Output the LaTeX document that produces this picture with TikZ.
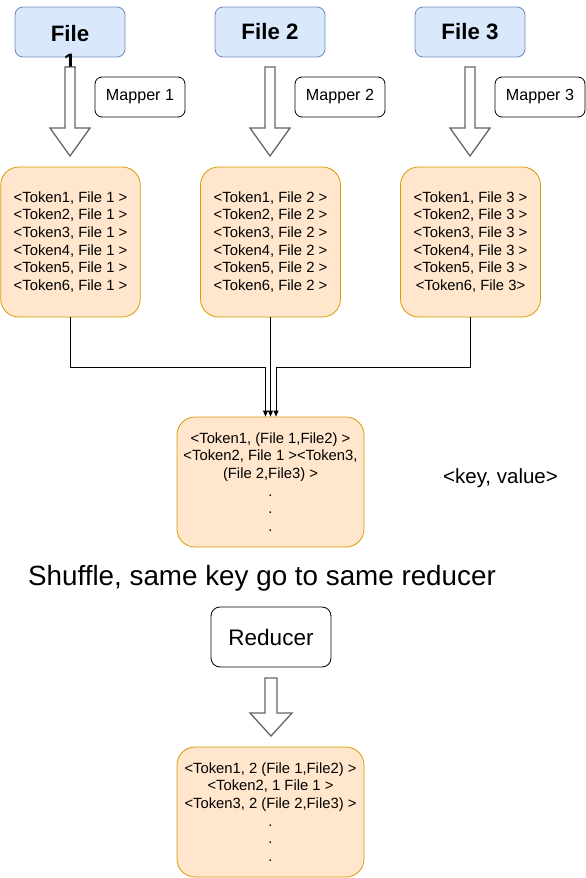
\documentclass[tikz,border=0pt]{standalone}
\usepackage{fontspec}
\setmainfont{Liberation Sans}
\usetikzlibrary{arrows.meta}
\definecolor{fileFill}{HTML}{DAE8FC}
\definecolor{fileDraw}{HTML}{6C8EBF}
\definecolor{tokFill}{HTML}{FFE6CC}
\definecolor{tokDraw}{HTML}{D79B00}
\definecolor{arrGray}{HTML}{666666}
\newcommand{\blockarr}[6]{%
  \draw[barrow] (#1-#5,#2) -- (#1+#5,#2) -- (#1+#5,#3) -- (#1+#6,#3) -- (#1,#4) -- (#1-#6,#3) -- (#1-#5,#3) -- cycle;}
\begin{document}
\begin{tikzpicture}[x=1pt,y=-1pt,
  filebox/.style={draw=fileDraw,fill=fileFill,rounded corners=8pt,minimum width=110pt,minimum height=50pt,inner sep=0pt,line width=0.8pt,font=\fontsize{22.3}{28}\selectfont\bfseries},
  mapbox/.style={draw=black,fill=white,rounded corners=7pt,minimum width=90pt,minimum height=40pt,inner sep=0pt,line width=0.8pt,font=\fontsize{16.1}{19}\selectfont},
  tokbox/.style={draw=tokDraw,fill=tokFill,rounded corners=18pt,inner sep=0pt,line width=0.8pt,align=center,font=\fontsize{14.8}{17.7}\selectfont},
  barrow/.style={draw=arrGray,fill=white,line width=1.3pt,line join=miter},
  conn/.style={draw=black,line width=0.8pt,-{Triangle[length=6pt,width=5pt]}},
]
\useasboundingbox (0,0) rectangle (586,878);

% File boxes
\node[filebox] (f1) at (70,32) {};
\node[font=\fontsize{22.3}{28}\selectfont\bfseries,align=center,inner sep=0pt] (f1t) at (70,47) {File\\1};
\node[filebox] (f2) at (270,32) {File 2};
\node[filebox] (f3) at (470,32) {File 3};

% Block arrows (mappers)
\blockarr{70}{67}{128}{156}{5}{20}
\blockarr{270}{67}{128}{156}{5}{20}
\blockarr{470}{67}{128}{156}{5}{20}

% Mapper labels
\node[mapbox] (m1) at (140,97) {Mapper 1};
\node[mapbox] (m2) at (340,97) {Mapper 2};
\node[mapbox] (m3) at (540,97) {Mapper 3};

% Token boxes
\node[tokbox,minimum width=139.5pt,minimum height=150pt] (t1) at (70.5,242) {<Token1, File 1 >\\<Token2, File 1 >\\<Token3, File 1 >\\<Token4, File 1 >\\<Token5, File 1 >\\<Token6, File 1 >};
\node[tokbox,minimum width=140pt,minimum height=150pt] (t2) at (270.5,242) {<Token1, File 2 >\\<Token2, File 2 >\\<Token3, File 2 >\\<Token4, File 2 >\\<Token5, File 2 >\\<Token6, File 2 >};
\node[tokbox,minimum width=140pt,minimum height=150pt] (t3) at (470.5,242) {<Token1, File 3 >\\<Token2, File 3 >\\<Token3, File 3 >\\<Token4, File 3 >\\<Token5, File 3 >\\<Token6, File 3>};

% Shuffled box
\node[tokbox,minimum width=187pt,minimum height=130pt] (mid) at (270.5,482) {<Token1, (File 1,File2) >\\<Token2, File 1 ><Token3,\\(File 2,File3) >\\.\\.\\.};

% Connectors
\draw[conn] (t1.south) -- ++(0,50) -| ([xshift=-5pt]mid.north);
\draw[conn] (t2.south) -- (mid.north);
\draw[conn] (t3.south) -- ++(0,50) -| ([xshift=5.5pt]mid.north);

\node[font=\fontsize{20.5}{24}\selectfont,inner sep=0pt] (kv) at (500.5,478) {<key, value>};
\node[font=\fontsize{27.8}{32}\selectfont,inner sep=0pt] (shuf) at (262,578) {Shuffle, same key go to same reducer};

% Reducer
\node[draw=black,fill=white,rounded corners=9pt,minimum width=120pt,minimum height=60pt,inner sep=0pt,line width=0.8pt,font=\fontsize{22.5}{26}\selectfont] (red) at (271,637) {Reducer};
\blockarr{271}{678}{713}{736}{6}{21}

% Final box
\node[tokbox,minimum width=187pt,minimum height=130pt] (fin) at (270.5,812) {<Token1, 2 (File 1,File2) >\\<Token2, 1 File 1 >\\<Token3, 2 (File 2,File3) >\\.\\.\\.};
\end{tikzpicture}
\end{document}
